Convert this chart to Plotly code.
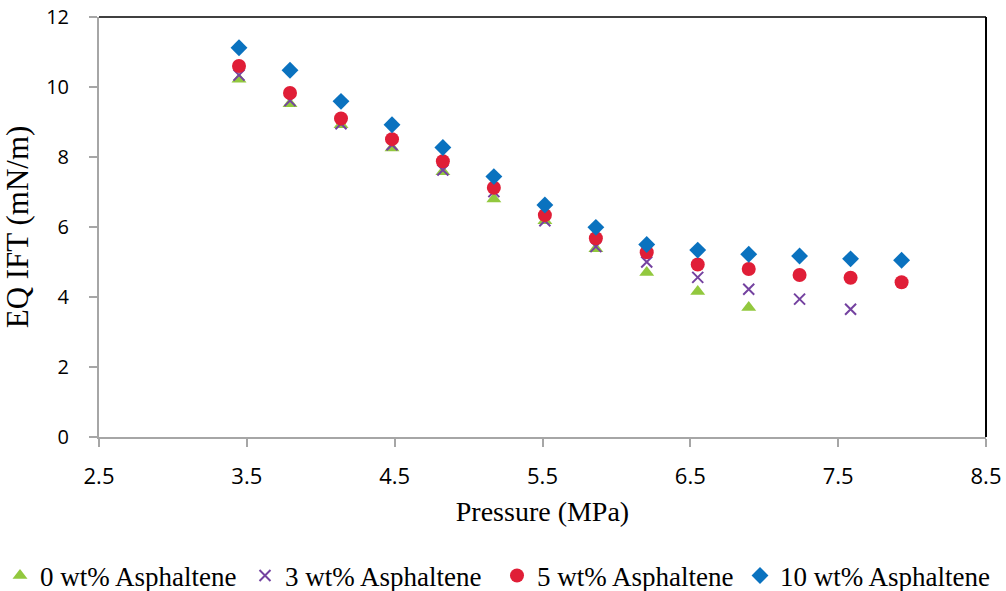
import plotly.graph_objects as go

pressure = [3.447, 3.792, 4.137, 4.482, 4.826, 5.171, 5.516, 5.861, 6.205, 6.550, 6.895, 7.239, 7.584, 7.929]

ift_0 = [10.22, 9.52, 8.92, 8.26, 7.58, 6.80, 6.18, 5.38, 4.70, 4.16, 3.70]
ift_3 = [10.34, 9.61, 8.95, 8.35, 7.63, 7.01, 6.18, 5.44, 5.00, 4.56, 4.22, 3.94, 3.65]
ift_5 = [10.60, 9.83, 9.10, 8.51, 7.88, 7.12, 6.34, 5.68, 5.28, 4.93, 4.80, 4.63, 4.55, 4.42]
ift_10 = [11.12, 10.48, 9.59, 8.92, 8.27, 7.44, 6.63, 5.99, 5.50, 5.34, 5.22, 5.17, 5.09, 5.05]

series = [
    ("0 wt% Asphaltene", ift_0, "triangle-up", "#92C83E", 13),
    ("3 wt% Asphaltene", ift_3, "x-thin", "#7442A0", 11),
    ("5 wt% Asphaltene", ift_5, "circle", "#E01E37", 14),
    ("10 wt% Asphaltene", ift_10, "diamond", "#0A72BF", 13),
]
legend_ids = ["legend", "legend2", "legend3", "legend4"]
legend_left_px = [0, 245, 497, 740]

fig = go.Figure()
for (name, vals, sym, col, sz), lid in zip(series, legend_ids):
    marker = dict(symbol=sym, color=col, size=sz)
    if sym == "x-thin":
        marker["line"] = dict(color=col, width=2)
    fig.add_trace(go.Scatter(
        x=pressure[:len(vals)], y=vals, mode="markers", name=name,
        marker=marker, legend=lid,
    ))

W, H = 1006, 591
legend_layout = {}
for lid, lx in zip(legend_ids, legend_left_px):
    legend_layout[lid] = dict(
        orientation="h", xref="container", x=lx / W, xanchor="left",
        yref="container", y=1 - 576 / H, yanchor="middle",
        font=dict(family="Liberation Serif", size=27, color="black"),
        itemwidth=30, bgcolor="rgba(0,0,0,0)",
    )

axis_gray = "#A6A6A6"
fig.update_layout(
    width=W, height=H,
    margin=dict(l=99, r=20, t=17, b=154),
    plot_bgcolor="white", paper_bgcolor="white",
    showlegend=True,
    xaxis=dict(
        range=[2.5, 8.5], dtick=1, tick0=2.5, showgrid=False, zeroline=False,
        showline=True, linecolor=axis_gray, linewidth=2, automargin=False,
        ticks="outside", tickcolor=axis_gray, ticklen=8, tickwidth=1.5,
        ticklabelstandoff=11,
        tickfont=dict(family="Open Sans", size=22, color="black"),
        title=dict(text="Pressure (MPa)", font=dict(family="Liberation Serif", size=28, color="black"), standoff=12),
    ),
    yaxis=dict(
        range=[0, 12], dtick=2, showgrid=False, zeroline=False,
        showline=True, linecolor=axis_gray, linewidth=2, automargin=False,
        ticks="outside", tickcolor=axis_gray, ticklen=8, tickwidth=1.5,
        ticklabelstandoff=16,
        tickfont=dict(family="Open Sans", size=20, color="black"),
        title=dict(text="EQ IFT (mN/m)", font=dict(family="Liberation Serif", size=31, color="black"), standoff=12),
    ),
    shapes=[
        dict(type="line", xref="paper", yref="paper", x0=0, x1=1, y0=1, y1=1, line=dict(color="black", width=1.5)),
        dict(type="line", xref="paper", yref="paper", x0=1, x1=1, y0=0, y1=1, line=dict(color="black", width=2)),
    ],
    **legend_layout,
)

fig.write_html("out.html")
